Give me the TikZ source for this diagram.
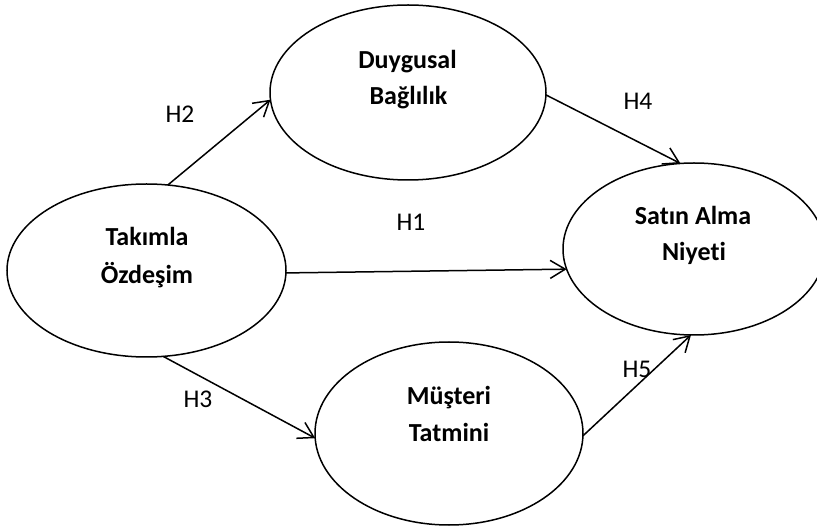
\documentclass[tikz,border=0pt]{standalone}
\usepackage{fontspec}
\setmainfont[Ligatures=NoCommon]{Carlito}
\usetikzlibrary{shapes.geometric,arrows.meta}
\tikzset{
  construct/.style={ellipse, draw=black, line width=1.5pt, inner sep=0pt, outer sep=0pt},
  conlabel/.style={font=\fontsize{26}{37}\selectfont\bfseries, anchor=base, inner sep=0pt},
  hyp/.style={font=\fontsize{25.5}{30}\selectfont, inner sep=0pt},
  path/.style={line width=1.5pt, -{Straight Barb[length=15pt,width=18pt,line width=1.5pt]}}
}
\begin{document}
\begin{tikzpicture}[x=1pt,y=-1pt]
\useasboundingbox (0,0) rectangle (817,529);
\clip (0,0) rectangle (817,529);
\node[construct, minimum width=279pt, minimum height=173pt] (TO) at (146.5,270.5) {};
\node[construct, minimum width=276pt, minimum height=175pt] (DB) at (408,92.5) {};
\node[construct, minimum width=262pt, minimum height=172pt] (SA) at (694,249) {};
\node[construct, minimum width=268pt, minimum height=183pt] (MT) at (449,433.5) {};

\node[conlabel] (TO1) at (147,246) {Takımla};
\node[conlabel] (TO2) at (147,283.5) {Özdeşim};
\node[conlabel] (DB1) at (407.5,68.3) {Duygusal};
\node[conlabel] (DB2) at (408.5,105) {Bağlılık};
\node[conlabel] (SA1) at (693,225) {Satın Alma};
\node[conlabel] (SA2) at (694,261) {Niyeti};
\node[conlabel] (MT1) at (449,405) {Müşteri};
\node[conlabel] (MT2) at (449,441.7) {Tatmini};

\draw[path] (TO.76) -- (DB.183.5);
\draw[path] (DB.-1.9) -- (SA.99.2);
\draw[path] (TO.-1) -- (SA.189.2);
\draw[path] (TO.-79.2) -- (MT.182.8);
\draw[path] (MT.-1.5) -- (SA.268);

\node[hyp] (H2) at (180,114) {H2};
\node[hyp] (H4) at (638,101) {H4};
\node[hyp] (H1) at (411,222) {H1};
\node[hyp] (H3) at (198,399) {H3};
\node[hyp] (H5) at (637,369) {H5};
\end{tikzpicture}
\end{document}
